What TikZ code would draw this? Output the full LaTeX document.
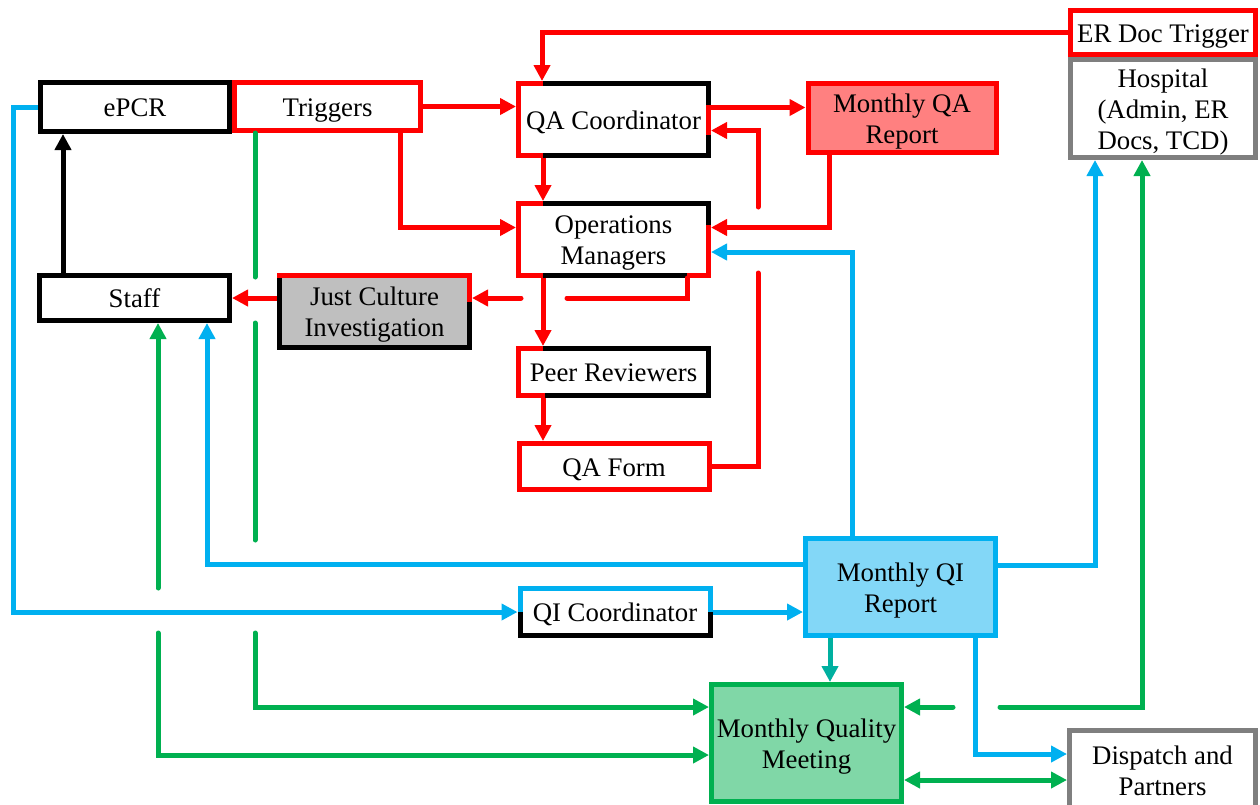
\documentclass[tikz,border=0pt]{standalone}
\usepackage{fontspec}
\setmainfont{Liberation Serif}
\usetikzlibrary{arrows.meta}
\definecolor{cred}{HTML}{FF0000}
\definecolor{cblue}{HTML}{00B0F0}
\definecolor{cgreen}{HTML}{00B050}
\definecolor{cgray}{HTML}{7F7F7F}
\definecolor{cteal}{HTML}{00B0A0}
\definecolor{fqa}{HTML}{FF8080}
\definecolor{fqi}{HTML}{83D7F7}
\definecolor{fmq}{HTML}{80D7A7}
\definecolor{fjc}{HTML}{BFBFBF}
\newcommand\Ln[1]{\rule{0pt}{19.5pt}\smash{#1}}
\begin{document}
\begin{tikzpicture}[x=1pt,y=-1pt,
 box/.style={draw, line width=5pt, fill=white, inner sep=0pt, align=center,
   font=\fontsize{26.8}{31}\selectfont},
 rl/.style={draw=cred, line width=5pt},
 bl/.style={draw=cblue, line width=5pt},
 gl/.style={draw=cgreen, line width=5pt},
 tl/.style={draw=cteal, line width=5pt},
 kl/.style={draw=black, line width=5pt},
 tip/.style={-{Triangle[length=16pt,width=16pt]}},
 tipb/.style={{Triangle[length=16pt,width=16pt]}-{Triangle[length=16pt,width=16pt]}},
 tips/.style={{Triangle[length=16pt,width=16pt]}-},
 ovr/.style={line width=5pt},
 gapend/.style={line cap=round}]
\useasboundingbox (0,0) rectangle (1260,804);
\fill[white] (0,0) rectangle (1260,804);

% boxes
\node[box, draw=cred, minimum width=186pt, minimum height=48pt] (trig) at (327.5,106.5) {\Ln{Triggers}};
\node[box, draw=black, minimum width=189pt, minimum height=49pt] (epcr) at (135,107) {\Ln{ePCR}};
\node[box, draw=black, minimum width=190pt, minimum height=45pt] (staff) at (134.5,298) {\Ln{Staff}};
\node[box, draw=black, fill=fjc, minimum width=190pt, minimum height=72pt] (jc) at (374.5,311.5) {\Ln{Just Culture}\\\Ln{Investigation}};
\node[box, draw=black, minimum width=190pt, minimum height=72pt] (qac) at (613.5,119.5) {\Ln{QA Coordinator}};
\node[box, draw=black, minimum width=190pt, minimum height=72pt] (ops) at (613.5,239.5) {\Ln{Operations}\\\Ln{Managers}};
\node[box, draw=black, minimum width=190pt, minimum height=47pt] (peer) at (613.5,372) {\Ln{Peer Reviewers}};
\node[box, draw=cred, minimum width=190pt, minimum height=46pt] (qaf) at (614,466.5) {\Ln{QA Form}};
\node[box, draw=cred, fill=fqa, minimum width=188pt, minimum height=69pt] (mqa) at (902,118) {\Ln{Monthly QA}\\\Ln{Report}};
\node[box, draw=cred, minimum width=185pt, minimum height=44pt] (erdoc) at (1163,32.5) {\Ln{ER Doc Trigger}};
\node[box, draw=cgray, minimum width=185pt, minimum height=98pt] (hosp) at (1163,108.5) {\Ln{Hospital}\\\Ln{(Admin, ER}\\\Ln{Docs, TCD)}};
\node[box, draw=cblue, fill=fqi, minimum width=190pt, minimum height=97pt] (mqi) at (900.5,587) {\Ln{Monthly QI}\\\Ln{Report}};
\node[box, draw=black, minimum width=190pt, minimum height=47pt] (qic) at (615,612) {\Ln{QI Coordinator}};
\node[box, draw=cgreen, fill=fmq, minimum width=190pt, minimum height=117pt] (mqm) at (806.5,743) {\Ln{Monthly Quality}\\\Ln{Meeting}};
\node[box, draw=cgray, minimum width=186pt, minimum height=79pt] (disp) at (1162.5,770) {\Ln{Dispatch and}\\\Ln{Partners}};

% partial coloured borders
\draw[cred, ovr] (543,83.5) -- (518.5,83.5) -- (518.5,155.5) -- (543,155.5);
\draw[cred, ovr] (708.5,105) -- (708.5,135);
\draw[cred, ovr] (543,203.5) -- (518.5,203.5) -- (518.5,275.5) -- (543,275.5);
\draw[cred, ovr] (708.5,225) -- (708.5,275.5) -- (687,275.5);
\draw[cred, ovr] (543,348.5) -- (518.5,348.5) -- (518.5,395.5) -- (545,395.5);
\draw[cred, ovr] (277,275.5) -- (469.5,275.5) -- (469.5,302);
\draw[cblue, ovr] (520,612) -- (520,588.5) -- (710,588.5) -- (710,612);

% red connectors
\draw[rl, tip] (trig.east) -- (trig.east -| qac.west);
\draw[rl, tip] (400,0 |- trig.south) |- ([yshift=12pt]ops.west);
\draw[rl, tip] (erdoc.west) -| (542,0 |- qac.north);
\draw[rl, tip] (543,0 |- qac.south) -- (543,0 |- ops.north);
\draw[rl, tip] ([yshift=12pt]qac.east) -- ([yshift=12pt]qac.east -| mqa.west);
\draw[rl, gapend] (qaf.east) -| (758,273);
\draw[rl, tip, gapend] (758,207) |- ([yshift=-11pt]qac.east);
\draw[rl, tip] (829,0 |- mqa.south) |- ([yshift=12pt]ops.east);
\draw[rl, tip] (543,0 |- ops.south) -- (543,0 |- peer.north);
\draw[rl, tip] (543,0 |- peer.south) -- (543,0 |- qaf.north);
\draw[rl, gapend] (687,0 |- ops.south) |- (567,298);
\draw[rl, tip, gapend] (521,298) -- (jc.east |- 0,298);
\draw[rl, tip] (jc.west |- staff.east) -- (staff.east);

% black connector
\draw[kl, tip] (63,0 |- staff.north) -- (63,0 |- epcr.south);

% blue connectors
\draw[bl, tip] (epcr.west) -| (13,0 |- qic.west) -- (qic.west);
\draw[bl, tip] (mqi.west |- 0,564) -| (207,0 |- staff.south);
\draw[bl, tip] (852,0 |- mqi.north) |- (ops.east |- 0,252);
\draw[bl, tip] (qic.east) -- (qic.east -| mqi.west);
\draw[bl, tip] (mqi.east |- 0,565) -| (1095,0 |- hosp.south);
\draw[bl, tip] (975,0 |- mqi.south) |- (disp.west |- 0,754);

% teal connector
\draw[tl, tip] (830,0 |- mqi.south) -- (830,0 |- mqm.north);

% green connectors
\draw[gl, gapend] (255,0 |- trig.south) -- (255,277);
\draw[gl, gapend] (255,323) -- (255,540);
\draw[gl, tip, gapend] (255,633) |- (mqm.west |- 0,707);
\draw[gl, tips, gapend] (158,0 |- staff.south) -- (158,588);
\draw[gl, tip, gapend] (158,633) |- (mqm.west |- 0,755);
\draw[gl, tip, gapend] (1000,707) -| (1142,0 |- hosp.south);
\draw[gl, tip, gapend] (953,707) -- (mqm.east |- 0,707);
\draw[gl, tipb] (mqm.east |- 0,780) -- (disp.west |- 0,780);
\end{tikzpicture}
\end{document}
